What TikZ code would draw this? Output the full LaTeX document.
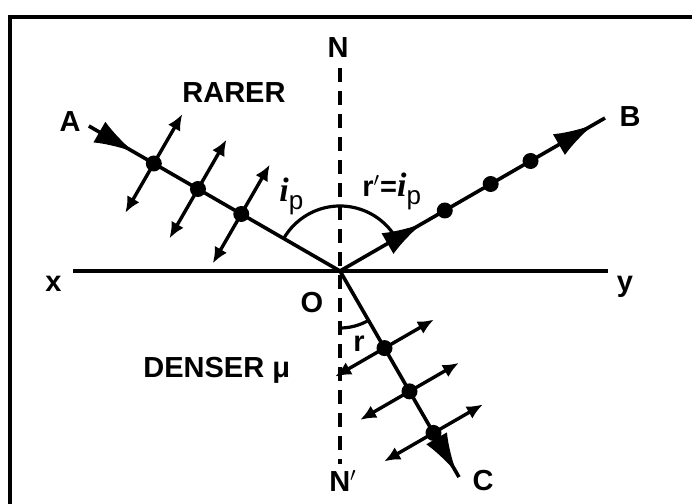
\documentclass[tikz,border=0pt]{standalone}
\usepackage{fontspec}
\setmainfont{Liberation Sans}
\newfontfamily\ifont{Liberation Serif}
\usetikzlibrary{arrows.meta,calc,decorations.markings}

% italic i with subscript p
\newcommand{\ipsym}{{\ifont\bfseries\itshape\fontsize{17}{17}\selectfont i}\raisebox{-4pt}{\fontsize{13}{13}\selectfont\mdseries p}}

\tikzset{
  ray/.style={line width=1.8pt},
  pol/.style={line width=1.7pt,{Latex[length=8pt,width=7pt]}-{Latex[length=8pt,width=7pt]}},
  lbl/.style={font=\fontsize{14.5}{17}\selectfont\bfseries,inner sep=0pt,anchor=base},
  bigtip/.style={postaction={decorate},decoration={markings,
    mark=at position #1 with {\arrow{Latex[length=20pt,width=12pt]}}}},
}

\begin{document}
\begin{tikzpicture}[x=0.5pt,y=0.5pt]
\useasboundingbox (0,0) rectangle (692,504);
% frame
\draw[line width=1.7pt] (10,0) -- (10,487) -- (692,487);

\coordinate (O) at (340,233);
\coordinate (a0) at ($(O)+(150:290)$);
\coordinate (b0) at ($(O)+(30:306)$);
\coordinate (c0) at ($(O)+(-60:238)$);
\coordinate (xl) at (73,233);
\coordinate (yr) at (608,233);
\coordinate (ntop) at (340,436);
\coordinate (nbot) at (340,40);

% surface and normal
\draw[line width=1.8pt] (xl) -- (yr);
\draw[line width=1.7pt,dash pattern=on 7pt off 4.5pt] (ntop) -- (nbot);

% incident ray, vibrations in both directions
\draw[ray,bigtip=0.18] (a0) -- (O);
\foreach \d in {114,164,215} {
  \coordinate (p) at ($(O)+(150:\d)$);
  \draw[pol] ($(p)+(240:57)$) -- ($(p)+(60:57)$);
  \fill (p) circle (8);
}

% reflected ray, dots only
\draw[ray,postaction={decorate},decoration={markings,
  mark=at position 0.31 with {\arrow{Latex[length=20pt,width=12pt]}},
  mark=at position 0.957 with {\arrow{Latex[length=20pt,width=12pt]}}}] (O) -- (b0);
\foreach \d in {121,174,220}
  \fill ($(O)+(30:\d)$) circle (8);

% refracted ray
\draw[ray,bigtip=0.98] (O) -- (c0);
\foreach \d in {89,139,187} {
  \coordinate (q) at ($(O)+(-60:\d)$);
  \draw[pol] ($(q)+(210:57)$) -- ($(q)+(30:57)$);
  \fill (q) circle (8);
}

% angles
\draw[line width=1.6pt] ([shift={(30:65)}]O) arc[start angle=30,end angle=150,radius=65];
\draw[line width=1.6pt] ([shift={(-90:57)}]O) arc[start angle=-90,end angle=-60,radius=57];

% labels
\node[lbl] (N) at (338,446) {N};
\node[lbl] (N') at (343,12) {N$'$};
\node[lbl] (xlab) at (53.5,212) {x};
\node[lbl] (ylab) at (625,212) {y};
\node[lbl] (Olab) at (312,191) {O};
\node[lbl] (Alab) at (70,372) {A};
\node[lbl] (Blab) at (630,377) {B};
\node[lbl] (Clab) at (483,13) {C};
\node[lbl,anchor=base west] (rarer) at (182,401) {RARER};
\node[lbl,anchor=base west] (denser) at (143,126) {DENSER μ};
\node[lbl,anchor=base west] (ip) at (279,302) {\ipsym};
\node[lbl,anchor=base west] (rip) at (362,307) {r$'$=\ipsym};
\node[lbl] (rlab) at (359,152) {r};
\end{tikzpicture}
\end{document}
